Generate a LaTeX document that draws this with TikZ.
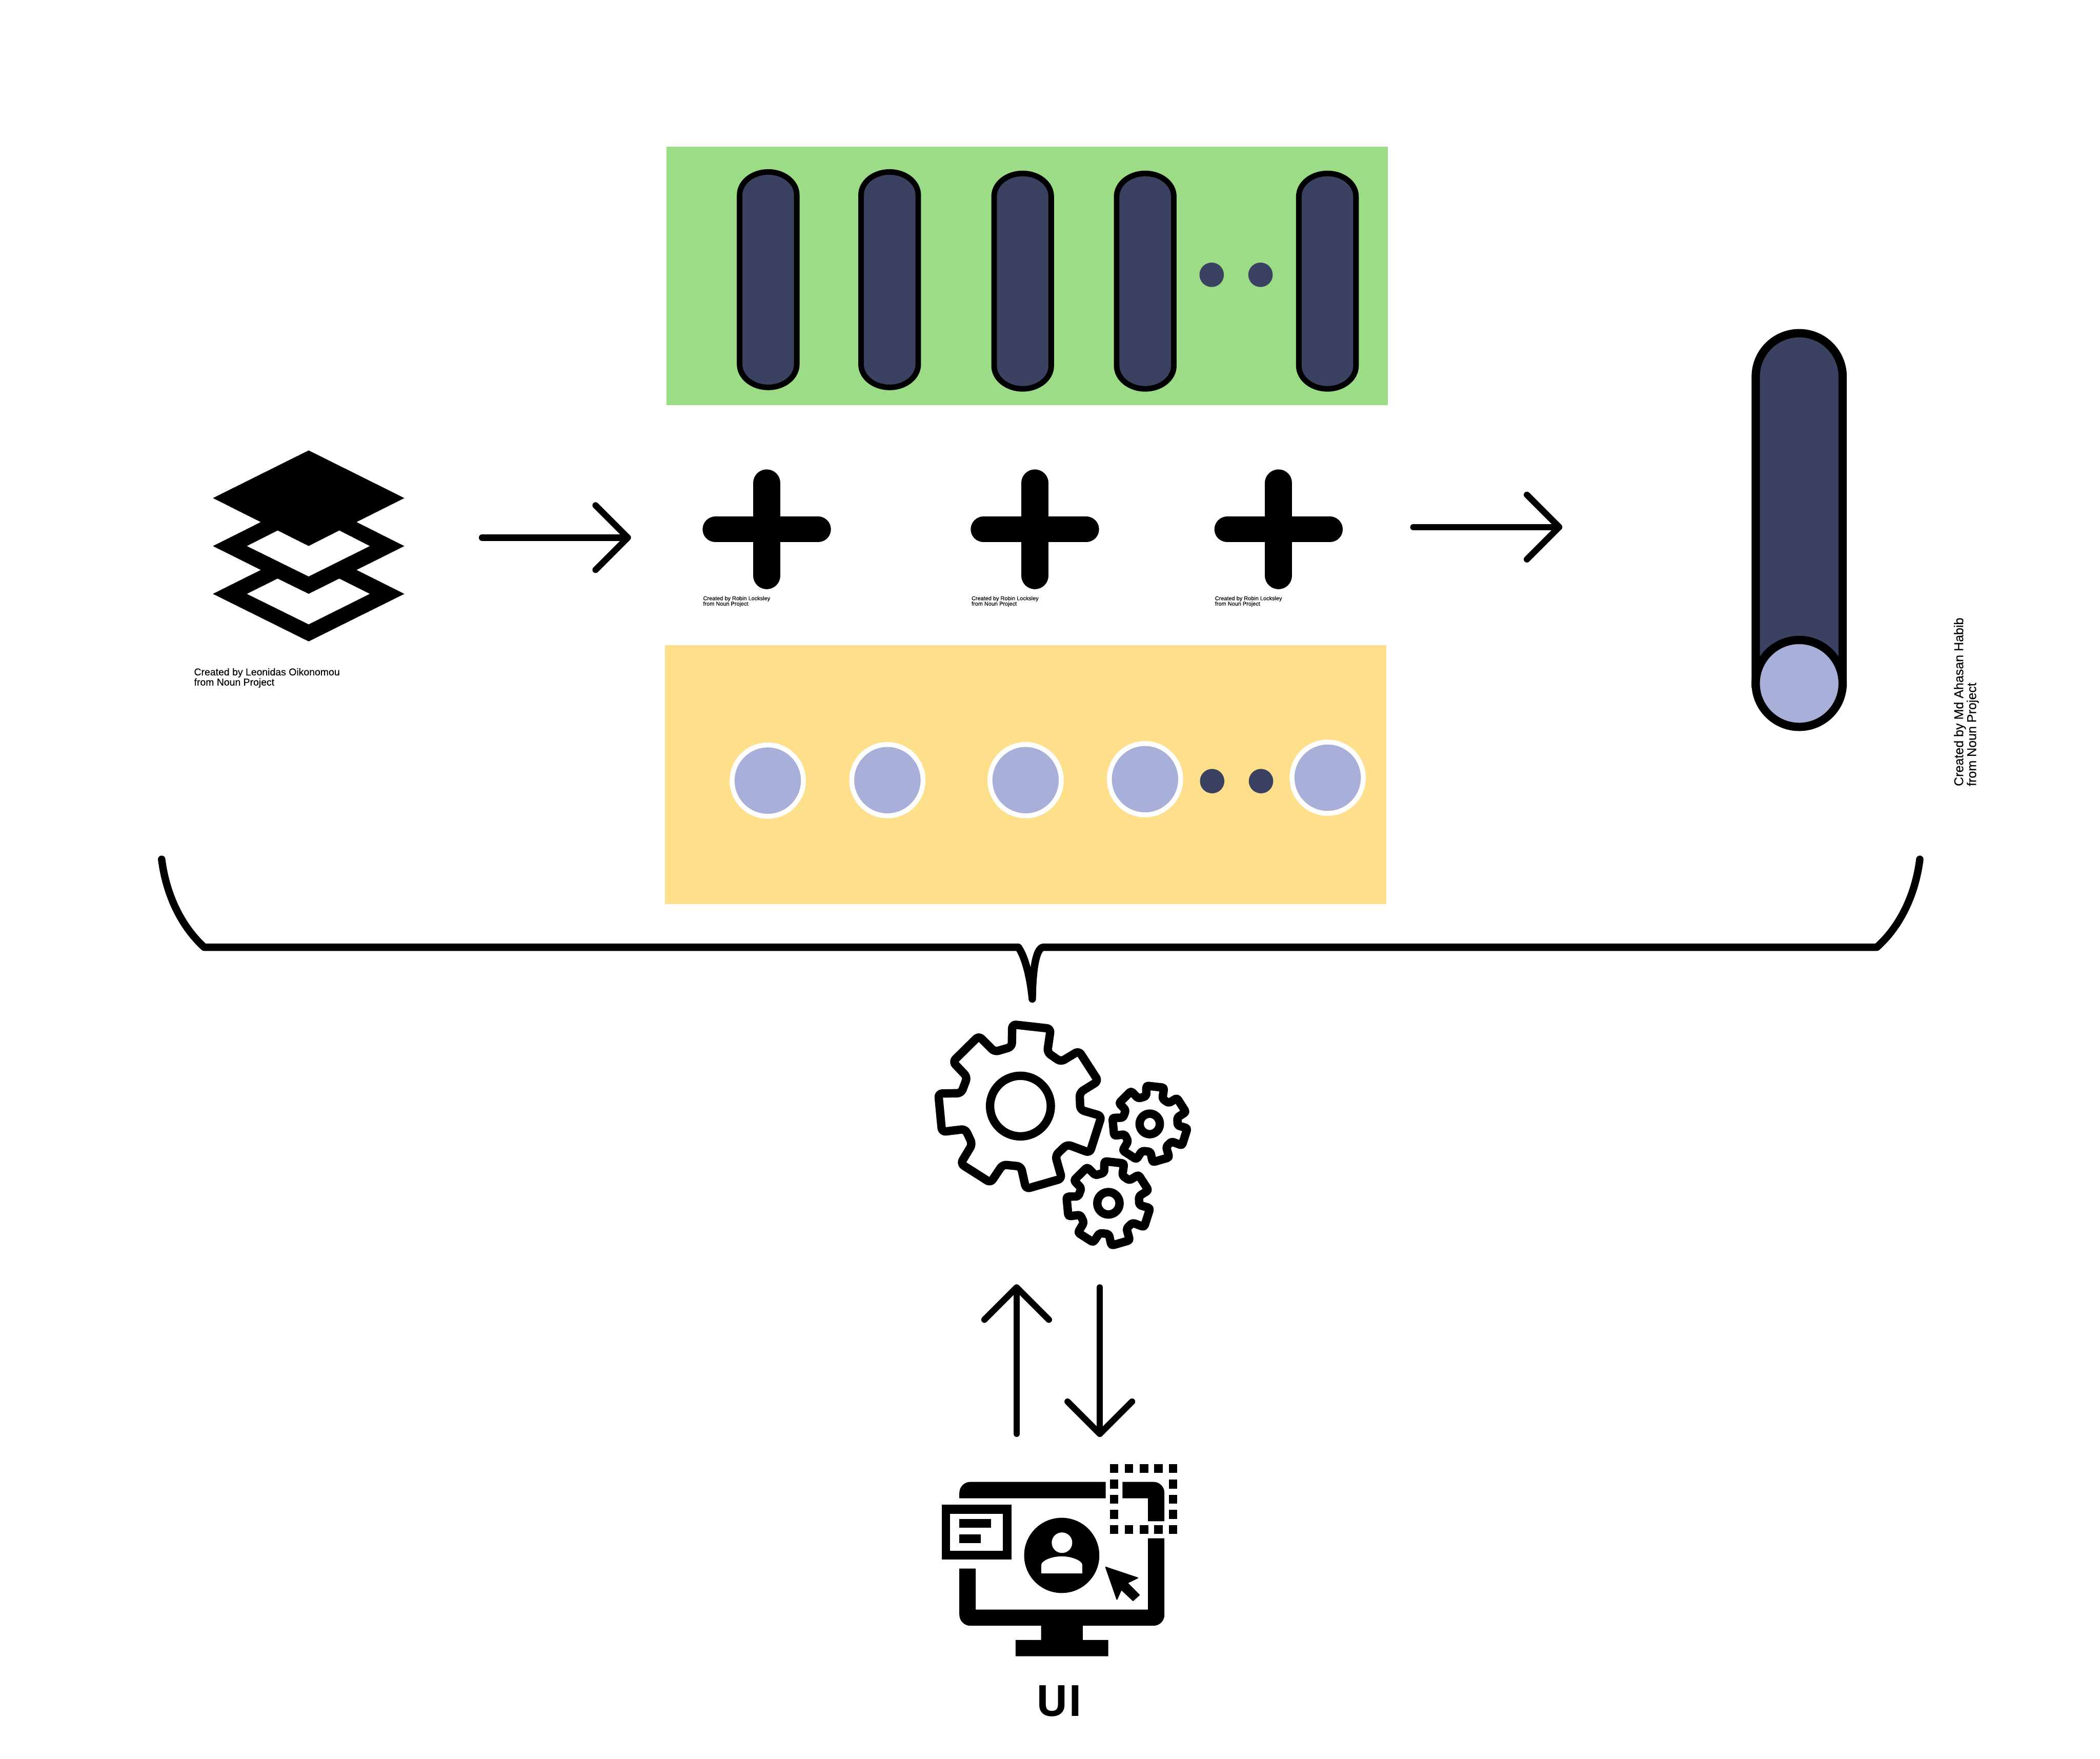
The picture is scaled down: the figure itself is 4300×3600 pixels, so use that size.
\documentclass[tikz,border=0pt]{standalone}
\usepackage{fontspec}
\setmainfont{Liberation Sans}
\newfontfamily\creditfont[FakeBold=0.25]{Liberation Sans}
\newfontfamily\uifont{Open Sans}
\usetikzlibrary{arrows.meta}
\definecolor{navy}{HTML}{3B4161}
\definecolor{lav}{HTML}{A8AFD9}
\definecolor{grn}{HTML}{9CDC87}
\definecolor{yel}{HTML}{FEE08C}
\tikzset{
  pillbody/.style={draw=black,fill=navy,line width=2.85pt},
  dotmark/.style={fill=navy},
  discmark/.style={draw=white,fill=lav,line width=2.5pt},
  arr/.style={line width=3.25pt,line cap=round,-{Straight Barb[length=16.5pt,width=33pt,line width=3.25pt,round]}},
  brace/.style={line width=3.8pt,line cap=round,line join=round},
  gearline/.style={draw=black,line width=4.3pt,line join=round},
  plusbar/.style={line cap=round},
  credit/.style={inner sep=0pt,align=left,anchor=north west,text=black},
}
\newcommand{\pill}[3]{%
  \draw[pillbody] (#1-58.5,#2+5+47) arc[start angle=180,end angle=360,x radius=58.5,y radius=47]
    -- (#1+58.5,#3-5-47) arc[start angle=0,end angle=180,x radius=58.5,y radius=47] -- cycle;}
\newcommand{\plus}[1]{%
  \draw[plusbar,line width=13.2pt] (#1-105,1083.7) -- (#1+105,1083.7);
  \draw[plusbar,line width=13.9pt] (#1,988.7) -- (#1,1178.3);}
\newcommand{\gearoutline}{%
  \draw[gearline] (537,175) -- (727,198) -- (710,325) -- (777,375) -- (866,317) -- (962,478) -- (870,540) -- (873,632)
   -- (978,665) -- (920,862) -- (808,817) -- (750,877) -- (782,1000) -- (605,1055) -- (580,935) -- (490,925)
   -- (430,1022) -- (282,920) -- (340,815) -- (305,735) -- (190,750) -- (172,545) -- (285,543) -- (315,457)
   -- (243,375) -- (372,237) -- (450,322) -- (535,295) -- cycle;}
\begin{document}
\begin{tikzpicture}[x=0.25pt,y=-0.25pt]
\useasboundingbox (0,0) rectangle (4300,3600);
% green block
\fill[grn] (1365,300) rectangle (2842,829);
\pill{1573}{347}{798}
\pill{1821.6}{347}{798}
\pill{2094}{350}{801}
\pill{2345}{350}{801}
\pill{2718}{350}{801}
\fill[dotmark] (2481,562.5) circle[radius=25];
\fill[dotmark] (2581,562.5) circle[radius=25];
% yellow block
\fill[yel] (1362,1321) rectangle (2839,1851);
\draw[discmark] (1572,1598) circle[radius=73];
\draw[discmark] (1817,1597) circle[radius=73];
\draw[discmark] (2100,1597) circle[radius=73];
\draw[discmark] (2344.5,1595) circle[radius=73];
\draw[discmark] (2718.5,1592) circle[radius=73];
\fill[dotmark] (2482,1599) circle[radius=25];
\fill[dotmark] (2582,1599) circle[radius=25];
% layers icon
\fill (632,1117.8) -- (828,1215.7) -- (632,1313) -- (436,1215.7) -- cycle;
\fill (632,1019.6) -- (828,1117.8) -- (632,1215.7) -- (436,1117.8) -- cycle;
\fill (632,922) -- (828,1019.6) -- (632,1117.8) -- (436,1019.6) -- cycle;
\fill[white] (505.7,1215.7) -- (568.5,1184.5) -- (632,1215.7) -- (694.8,1184.5) -- (757,1215.7) -- (632,1278) -- cycle;
\fill[white] (505.7,1117.8) -- (568.5,1086) -- (632,1117.8) -- (694.8,1086) -- (757,1117.8) -- (632,1180) -- cycle;
\node[credit,font=\fontsize{5.1pt}{5.2pt}\creditfont] (layerscredit) at (396.6,1367) {Created by Leonidas Oikonomou\\from Noun Project};
% plus icons
\plus{1570}
\plus{2119}
\plus{2618}
\node[credit,font=\fontsize{2.87pt}{2.75pt}\creditfont] (pluscrediti) at (1439,1219.6) {Created by Robin Locksley\\from Noun Project};
\node[credit,font=\fontsize{2.87pt}{2.75pt}\creditfont] (pluscreditii) at (1988.6,1219.6) {Created by Robin Locksley\\from Noun Project};
\node[credit,font=\fontsize{2.87pt}{2.75pt}\creditfont] (pluscreditiii) at (2487,1219.6) {Created by Robin Locksley\\from Noun Project};
% arrows
\coordinate (aonestart) at (987,1100.5);
\coordinate (aoneend) at (1292,1100.5);
\draw[arr] (aonestart) -- (aoneend);
\coordinate (atwostart) at (2894,1079);
\coordinate (atwoend) at (3199,1079);
\draw[arr] (atwostart) -- (atwoend);
% cylinder
\draw[draw=black,fill=navy,line width=4.25pt] (3595,771) arc[start angle=180,end angle=360,radius=89] -- (3773,1399) -- (3595,1399) -- cycle;
\draw[draw=black,fill=lav,line width=4.25pt] (3684,1399) circle[radius=89];
\node[credit,rotate=90,font=\fontsize{6.57pt}{6.6pt}\creditfont] (cylcredit) at (4000,1610) {Created by Md Ahasan Habib\\from Noun Project};
% brace
\draw[brace] (331,1759) .. controls (340,1830) and (370,1895) .. (418,1939)
  -- (2085,1939) .. controls (2100,1960) and (2110,2005) .. (2113.7,2045)
  .. controls (2114,2005) and (2118,1939) .. (2137,1939)
  -- (3843,1939) .. controls (3892,1895) and (3922,1830) .. (3931,1759);
% gears
\begin{scope}[shift={(1850,2030)},x=0.10365pt,y=-0.09567pt]
  \begin{scope}[rounded corners=2pt]
    \gearoutline
  \end{scope}
  \draw[gearline] (577.5,612) circle[x radius=150,y radius=162];
  \begin{scope}[shift={(716.85,817.3)},scale=0.5125,rounded corners=1.1pt]
    \gearoutline
  \end{scope}
  \draw[gearline] (1012,1132) circle[x radius=55,y radius=60];
  \begin{scope}[shift={(953.05,421.6)},xscale=0.459,yscale=0.465,rounded corners=1pt]
    \gearoutline
  \end{scope}
  \draw[gearline] (1216,707.5) circle[x radius=50,y radius=55];
\end{scope}
% up / down arrows
\coordinate (upstart) at (2081.7,2935);
\coordinate (upend) at (2081.7,2629);
\draw[arr] (upstart) -- (upend);
\coordinate (downstart) at (2252,2635.5);
\coordinate (downend) at (2252,2941.7);
\draw[arr] (downstart) -- (downend);
% monitor
\fill (1964.4,3067) -- (1964.4,3056) arc[start angle=180,end angle=270,radius=22.5] -- (2264,3033.5) -- (2264,3067) -- cycle;
\fill (2298.4,3033.5) -- (2361.8,3033.5) arc[start angle=270,end angle=360,radius=22.5] -- (2384.3,3114) -- (2350.6,3114) -- (2350.6,3067) -- (2298.4,3067) -- cycle;
\fill (1964.4,3211) -- (1998,3211) -- (1998,3295) -- (2350.6,3295) -- (2350.6,3149) -- (2384.3,3149) -- (2384.3,3305.5)
  arc[start angle=0,end angle=90,radius=22.5] -- (2217,3328) -- (2217,3357) -- (2269.2,3357) -- (2269.2,3390.5) -- (2079.4,3390.5)
  -- (2079.4,3357) -- (2131.6,3357) -- (2131.6,3328) -- (1986.9,3328) arc[start angle=90,end angle=180,radius=22.5] -- cycle;
\foreach \xa in {2272.5,2303,2333.6,2363,2393} {
  \fill (\xa,2997) rectangle +(17.5,18);
  \fill (\xa,3122) rectangle +(17.5,18);
}
\foreach \ya in {3029,3060,3091} {
  \fill (2272.5,\ya) rectangle +(17.5,18);
  \fill (2393,\ya) rectangle +(17.5,18);
}
\fill (1928,3080.5) rectangle (2071,3192);
\fill[white] (1945.5,3098.5) rectangle (2053.5,3175);
\fill (1964.4,3109) rectangle (2029.5,3127);
\fill (1964.4,3141) rectangle (2008.7,3159);
\fill (2174,3184) circle[radius=77];
\fill[white] (2174.5,3158) circle[radius=21];
\fill[white] (2132.3,3221) -- (2132.3,3203) .. controls (2132.3,3196) and (2151,3186) .. (2174,3186) .. controls (2197,3186) and (2216,3196) .. (2216,3203) -- (2216,3221) -- cycle;
\fill[line join=round,draw=black,line width=0.5pt] (2264,3208) -- (2329.5,3230) -- (2308.4,3240.5) -- (2332.8,3265) -- (2320,3276.5) -- (2296,3254) -- (2287,3274) -- cycle;
\node[inner sep=0pt,anchor=base,font=\fontsize{22pt}{22pt}\uifont\bfseries] (uilabel) at (2168.5,3513) {UI};
\end{tikzpicture}
\end{document}
